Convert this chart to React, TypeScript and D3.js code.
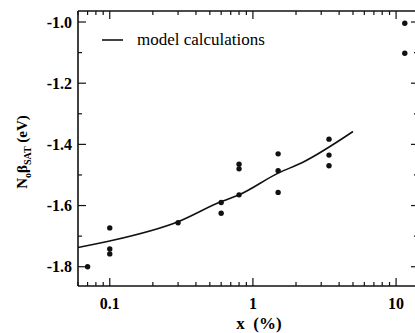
import React from 'react';
import * as d3 from 'd3';

// model curve
const modelX = [0.06, 0.1, 0.3, 0.6, 0.8, 1.5, 2.2, 5.0];
const modelY = [-1.737, -1.716, -1.653, -1.587, -1.565, -1.494, -1.46, -1.358];

// measured points
const pointX = [0.07, 0.1, 0.1, 0.1, 0.3, 0.6, 0.6, 0.8, 0.8, 0.8, 1.5, 1.5, 1.5, 3.4, 3.4, 3.4, 11.5, 11.5];
const pointY = [-1.8, -1.673, -1.742, -1.758, -1.656, -1.59, -1.625, -1.465, -1.48, -1.565, -1.431, -1.486, -1.557, -1.383, -1.435, -1.47, -1.004, -1.102];

const yMajor = [-1.0, -1.2, -1.4, -1.6, -1.8];
const yMinor = [-1.1, -1.3, -1.5, -1.7];
const xLabels = [0.1, 1, 10];

const W = 415;
const H = 333;
const left = 78, right = 417, top = 11, bottom = 286;
const font = "'Liberation Serif', 'Times New Roman', serif";

export default function App() {
  const x = d3.scaleLog().domain([0.06, 14]).range([left, right]);
  const y = d3.scaleLinear().domain([-0.964, -1.863]).range([top, bottom]);

  const xTicks = x.ticks().filter(t => t >= 0.06 && t <= 14);
  const isMajor = (t: number) => Math.abs(Math.log10(t) - Math.round(Math.log10(t))) < 1e-6;

  const line = d3.line<number>()
    .x((d, i) => x(modelX[i]))
    .y(d => y(d))
    .curve(d3.curveMonotoneX);

  const stroke = '#111';

  return (
    <svg width={W} height={H} style={{ position: 'absolute', left: 0, top: 0, background: '#fff' }}>
      {/* frame */}
      <line x1={left} x2={left} y1={top} y2={bottom} stroke={stroke} strokeWidth={1.6} />
      <line x1={left} x2={right} y1={bottom} y2={bottom} stroke={stroke} strokeWidth={1.6} />
      <line x1={left} x2={right} y1={top} y2={top} stroke={stroke} strokeWidth={1.6} />
      <line x1={right} x2={right} y1={top} y2={bottom} stroke={stroke} strokeWidth={1.6} />

      {/* x ticks, bottom and top */}
      {xTicks.map(t => {
        const len = isMajor(t) ? 8 : 4;
        return (
          <g key={'xt' + t}>
            <line x1={x(t)} x2={x(t)} y1={bottom} y2={bottom - len} stroke={stroke} strokeWidth={1.2} />
            <line x1={x(t)} x2={x(t)} y1={top} y2={top + len} stroke={stroke} strokeWidth={1.2} />
          </g>
        );
      })}
      {xLabels.map(t => (
        <text key={'xl' + t} x={x(t)} y={309} textAnchor="middle" fontFamily={font} fontWeight="bold" fontSize={16}>{t}</text>
      ))}

      {/* y ticks, left and right */}
      {yMajor.map(t => (
        <g key={'ym' + t}>
          <line x1={left} x2={left + 8} y1={y(t)} y2={y(t)} stroke={stroke} strokeWidth={1.2} />
          <line x1={right} x2={right - 6} y1={y(t)} y2={y(t)} stroke={stroke} strokeWidth={1.2} />
          <text x={72} y={y(t) + 5.5} textAnchor="end" fontFamily={font} fontWeight="bold" fontSize={16}>{t.toFixed(1)}</text>
        </g>
      ))}
      {yMinor.map(t => (
        <g key={'yn' + t}>
          <line x1={left} x2={left + 4} y1={y(t)} y2={y(t)} stroke={stroke} strokeWidth={1.2} />
          <line x1={right} x2={right - 3} y1={y(t)} y2={y(t)} stroke={stroke} strokeWidth={1.2} />
        </g>
      ))}

      {/* model curve */}
      <path d={line(modelY) || ''} fill="none" stroke={stroke} strokeWidth={1.6} />

      {/* data points */}
      {pointX.map((px, i) => (
        <circle key={'p' + i} cx={x(px)} cy={y(pointY[i])} r={2.7} fill={stroke} />
      ))}

      {/* legend */}
      <line x1={102} x2={123} y1={40} y2={40} stroke={stroke} strokeWidth={1.6} />
      <text x={137} y={45} fontFamily={font} fontSize={17}>model calculations</text>

      {/* axis titles */}
      <text x={259} y={329} textAnchor="middle" fontFamily={font} fontWeight="bold" fontSize={17}>
        x{'\u00a0\u00a0'}(%)
      </text>
      <text transform="translate(27,152) rotate(-90)" textAnchor="middle" fontFamily={font} fontWeight="bold" fontSize={15}>
        N<tspan fontSize={10} dy={4}>o</tspan><tspan dy={-4}>β</tspan><tspan fontSize={10} dy={4}>SAT</tspan><tspan dy={-4}>{'\u00a0(eV)'}</tspan>
      </text>
    </svg>
  );
}
